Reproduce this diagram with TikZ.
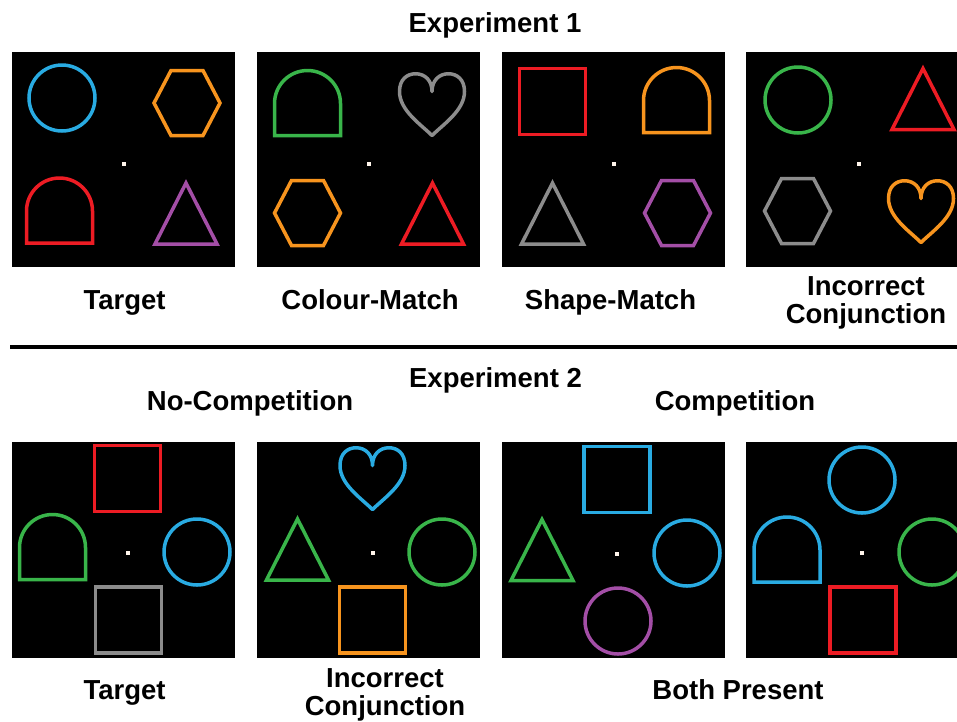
\documentclass[tikz,border=0pt]{standalone}
\usepackage{fontspec}
\setmainfont{Liberation Sans}
\definecolor{cBlue}{RGB}{41,171,226}
\definecolor{cOrange}{RGB}{247,148,30}
\definecolor{cRed}{RGB}{237,28,36}
\definecolor{cGreen}{RGB}{57,181,74}
\definecolor{cPurple}{RGB}{163,78,166}
\definecolor{cGray}{RGB}{140,140,140}
\begin{document}
\begin{tikzpicture}[x=1pt,y=-1pt,
  panel/.style={fill=black},
  shp/.style={line width=3.5pt},
  lbl/.style={font=\fontsize{27.5}{28}\selectfont\bfseries,align=center,inner sep=0pt,anchor=base},
  fix/.pic={\fill[white!92!orange] (-1.8,-1.8) rectangle (1.8,1.8);},
  circ/.pic={\draw[shp] (0,0) circle[radius=33pt];},
  sqr/.pic={\draw[shp] (-33,-33) rectangle (33,33);},
  hexa/.pic={\draw[shp] (-33,0) -- (-16,-32.5) -- (16,-32.5) -- (33,0) -- (16,32.5) -- (-16,32.5) -- cycle;},
  tri/.pic={\draw[shp] (0,-30) -- (31,31) -- (-31,31) -- cycle;},
  arch/.pic={\draw[shp] (-33,32) -- (-33,0) arc[start angle=180,end angle=0,radius=33pt] -- (33,32) -- cycle;},
  heart/.pic={\draw[shp,line join=round] (0,30) .. controls (-11,19) and (-32.5,5) .. (-32.5,-14)
      .. controls (-32.5,-26) and (-25,-31.75) .. (-16.5,-31.75) .. controls (-7,-31.75) and (0,-25) .. (0,-14)
      .. controls (0,-25) and (7,-31.75) .. (16.5,-31.75) .. controls (25,-31.75) and (32.5,-26) .. (32.5,-14)
      .. controls (32.5,5) and (11,19) .. cycle;}]
\useasboundingbox[fill=white] (0,0) rectangle (957,721);
\clip (0,0) rectangle (957,721);

% panels
\foreach \x in {12,257,502,746} {
  \fill[panel] (\x,52) rectangle ++(223,215);
  \fill[panel] (\x,442) rectangle ++(223,216);
}

% Experiment 1
\node[lbl] (exp1) at (495,32) {Experiment 1};
\pic[cBlue] at (62,98) {circ};
\pic[cOrange] at (187,103) {hexa};
\pic[cRed] at (59.5,211) {arch};
\pic[cPurple] at (186,213) {tri};
\pic at (124,164) {fix};

\pic[cGreen] at (307.5,103.5) {arch};
\pic[cGray] at (432,105.5) {heart};
\pic[cOrange] at (307.5,213) {hexa};
\pic[cRed] at (432.5,213) {tri};
\pic at (369,164) {fix};

\pic[cRed] at (552.5,101.5) {sqr};
\pic[cOrange] at (676.5,100.5) {arch};
\pic[cGray] at (552.5,213) {tri};
\pic[cPurple] at (677.5,213) {hexa};
\pic at (614,164) {fix};

\pic[cGreen] at (798,100) {circ};
\pic[cRed] at (923,98.5) {tri};
\pic[cGray] at (797.5,211) {hexa};
\pic[cOrange] at (921,212.5) {heart};
\pic at (859,164) {fix};

\node[lbl] (tgt1) at (124.5,309.5) {Target};
\node[lbl] (colm) at (370,309.5) {Colour-Match};
\node[lbl] (shpm) at (610.5,309.5) {Shape-Match};
\node[lbl] (inc1) at (866,323) {Incorrect\\Conjunction};

\draw[line width=3.5pt] (10,347) -- (957,347);

% Experiment 2
\node[lbl] (exp2) at (495.5,387) {Experiment 2};
\node[lbl] (nocomp) at (250,410) {No-Competition};
\node[lbl] (comp) at (735,410) {Competition};

\pic[cRed] at (127.5,478.5) {sqr};
\pic[cGreen] at (52.5,547.5) {arch};
\pic[cBlue] at (197,552) {circ};
\pic[cGray] at (128.5,620) {sqr};
\pic at (128,553) {fix};

\pic[cBlue] at (372.5,479.5) {heart};
\pic[cGreen] at (297.5,549) {tri};
\pic[cGreen] at (442,552) {circ};
\pic[cOrange] at (372.5,620) {sqr};
\pic at (373,553) {fix};

\pic[cBlue] at (617,479.5) {sqr};
\pic[cGreen] at (542,549.5) {tri};
\pic[cBlue] at (687,553) {circ};
\pic[cPurple] at (618,621) {circ};
\pic at (617,554) {fix};

\pic[cBlue] at (862,480) {circ};
\pic[cBlue] at (787,550) {arch};
\pic[cGreen] at (932,552) {circ};
\pic[cRed] at (863,620) {sqr};
\pic at (862,553) {fix};

\node[lbl] (tgt2) at (124.5,699) {Target};
\node[lbl] (inc2) at (385,715) {Incorrect\\Conjunction};
\node[lbl] (both) at (738,699) {Both Present};
\end{tikzpicture}
\end{document}
